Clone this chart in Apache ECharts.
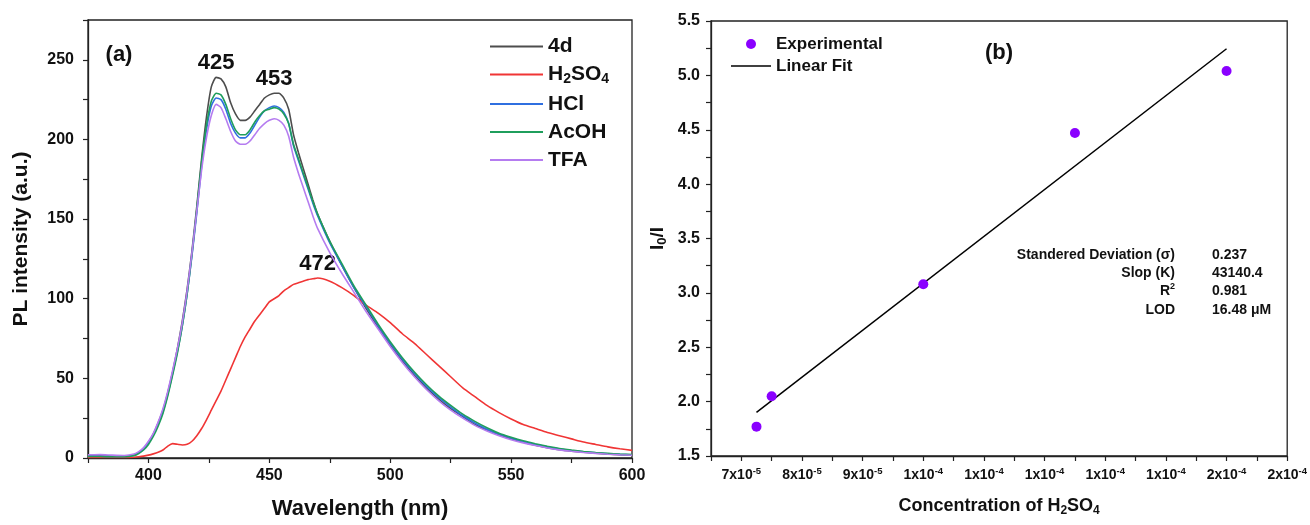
<!DOCTYPE html>
<html>
<head>
<meta charset="utf-8">
<title>PL spectra and Stern–Volmer plot</title>
<script src="https://cdn.jsdelivr.net/npm/echarts@6/dist/echarts.min.js"></script>
<style>
  html, body { margin: 0; padding: 0; background: #ffffff; }
  #chart { width: 1310px; height: 525px; }
</style>
</head>
<body>
<div id="chart"></div>
<script>
// ---------- (a) PL emission spectra ----------
const wavelength = [375, 380, 385, 390,
  394, 396, 398, 400, 402, 404, 406, 408, 410, 412, 414, 416, 418, 420, 422, 424,
  426, 428, 430, 432, 434, 436, 438, 440, 442, 444, 446, 448, 450, 452, 454, 456,
  458, 460, 462, 464, 466, 468, 470,
  475, 480, 485, 490, 495, 500, 505, 510, 515, 520, 525, 530, 535, 540, 545, 550,
  555, 560, 565, 570, 575, 580, 585, 590, 595, 600];

const pl4d = [1.5, 1.4, 1.2, 1.0,
  2, 3.5, 6, 10, 15, 22, 30, 41, 54, 69, 86, 106, 130, 158, 188, 214,
  233, 239, 238, 233, 223, 216, 212, 212, 214, 218, 222, 226, 228, 229, 229, 226,
  219, 203, 192, 182, 172, 162, 153,
  136, 121, 107, 94, 82, 71, 61, 52, 44, 37, 31, 26, 21, 17.5, 14.5, 12,
  10, 8, 6.5, 5.2, 4.3, 3.6, 3, 2.5, 2.1, 1.8];

const plH2SO4 = [0.4, 0.4, 0.3, 0.3,
  0.5, 0.8, 1.2, 1.8, 2.6, 3.6, 5, 7.5, 9, 8.6, 8.2, 8.6, 10.5, 14, 18.5, 24,
  30, 36, 42, 49, 56, 63, 70, 76, 81, 86, 90, 94, 98, 100, 102, 105,
  107, 109, 110, 111, 112, 112.5, 113,
  111, 107, 102, 96, 91, 85, 78, 72, 65, 58, 51, 44, 38.5, 33, 28.5, 24.5,
  21, 18.5, 16, 14, 12, 10, 8.5, 7, 5.8, 4.8];

const plHCl = [1.2, 1.1, 1.0, 0.9,
  1.8, 3.2, 5.6, 9.5, 14.5, 21, 29, 40, 53, 67, 83, 103, 127, 154, 183, 206,
  221, 226, 225, 219, 210, 204, 201, 201, 204, 209, 214, 218, 220, 221, 220, 217,
  210, 196, 187, 178, 169, 160, 152,
  135, 121, 107, 95, 83, 72, 62, 53, 45, 38, 32, 26.5, 22, 18, 15, 12.5,
  10.3, 8.5, 7, 5.7, 4.7, 3.9, 3.2, 2.7, 2.3, 2];

const plAcOH = [1.0, 0.9, 0.8, 0.8,
  1.5, 2.8, 5, 8.5, 13.5, 20, 28, 39, 52, 66, 83, 103, 128, 156, 186, 209,
  224, 229, 228, 222, 213, 206, 203, 203, 206, 211, 215, 218, 219, 220, 219, 216,
  210, 197, 188, 179, 170, 161, 153,
  136, 122, 108, 96, 84, 73, 63, 54, 46, 39, 33, 27.5, 23, 19, 15.5, 13,
  10.8, 9, 7.4, 6, 5, 4.1, 3.4, 2.9, 2.4, 2.1];

const plTFA = [2.0, 2.1, 1.8, 1.6,
  2.5, 4, 6.5, 10.5, 15.5, 22.5, 31, 42, 55, 69, 85, 105, 129, 155, 181, 201,
  215, 222, 220, 213, 205, 199, 197, 197, 199, 203, 207, 210, 212, 213, 212, 209,
  202, 189, 179, 170, 161, 152, 144,
  129, 116, 104, 92, 81, 70, 60, 51, 43, 36, 30, 25, 20.5, 17, 14, 11.5,
  9.5, 7.8, 6.3, 5.1, 4.2, 3.5, 2.9, 2.4, 2.0, 1.7];

const spectraNames = ['4d', 'H2SO4', 'HCl', 'AcOH', 'TFA'];
const spectraValues = [pl4d, plH2SO4, plHCl, plAcOH, plTFA];

// peak labels: text shown above the maximum of a series inside a wavelength window
const peakNotes = [
  { series: '4d', text: '425', range: [420, 440] },
  { series: '4d', text: '453', range: [445, 460] },
  { series: 'H2SO4', text: '472', range: [460, 490] }
];

// ---------- (b) I0/I versus H2SO4 concentration ----------
const concentration = [7.25e-5, 7.5e-5, 1.0e-4, 1.25e-4, 1.5e-4];
const ratioI0I = [1.77, 2.05, 3.08, 4.47, 5.04];
const fitSlope = 43140.4;
const statsRows = [
  ['Standered Deviation (σ)', '0.237'],
  ['Slop (K)', '43140.4'],
  ['{t|R}{p|2}', '0.981'],
  ['LOD', '16.48 μM']
];

// ---------- styling ----------
const FONT = '"Liberation Sans", Arial, Helvetica, sans-serif';
const INK = '#111111';
const AXIS = '#222222';
const spectraColors = ['#4d4d4d', '#f03535', '#2f6fe0', '#1f9e5c', '#b57cf0'];

function pairs(xs, ys) { return xs.map((x, i) => [x, ys[i]]); }

function peakIn(name, lo, hi) {
  const ys = spectraValues[spectraNames.indexOf(name)];
  let best = null;
  wavelength.forEach((w, i) => {
    if (w >= lo && w <= hi && (best === null || ys[i] > best[1])) best = [w, ys[i]];
  });
  return best;
}

// least-squares intercept for the stated slope
const meanX = concentration.reduce((a, b) => a + b, 0) / concentration.length;
const meanY = ratioI0I.reduce((a, b) => a + b, 0) / ratioI0I.length;
const fitIntercept = meanY - fitSlope * meanX;
const fitX = [Math.min(...concentration), Math.max(...concentration)];
const fitLine = fitX.map(x => [x, fitSlope * x + fitIntercept]);

const boldText = (size) => ({ fontFamily: FONT, fontWeight: 'bold', fontSize: size, color: INK });

function axisCommon() {
  return {
    type: 'value',
    axisLine: { show: true, onZero: false, lineStyle: { color: AXIS, width: 1.3 } },
    axisTick: { show: true, inside: false, length: 5, lineStyle: { color: AXIS, width: 1.2 } },
    splitLine: { show: false }
  };
}

function sciLabel(v) {
  const k = Math.round(v / 1e-6);
  if (k % 10 !== 0) return '';
  const e = Math.floor(Math.log10(v) + 1e-9);
  const m = Math.round(v / Math.pow(10, e) + 1e-9);
  return '{m|' + m + 'x10}{e|-' + (-e) + '}';
}

// thin bar used as a legend key for line series (aspect kept, so it stays a stroke)
const lineKey = (w, t) => 'path://M0,0 H' + w + ' V' + t + ' H0 Z';

const series = [];
spectraNames.forEach((name, idx) => {
  const notes = peakNotes.filter(n => n.series === name).map(n => {
    const p = peakIn(name, n.range[0], n.range[1]);
    return { coord: p, value: n.text, label: { formatter: n.text } };
  });
  series.push({
    type: 'line',
    name: name,
    xAxisIndex: 0,
    yAxisIndex: 0,
    data: pairs(wavelength, spectraValues[idx]),
    symbol: 'none',
    smooth: 0.2,
    lineStyle: { width: 1.6, color: spectraColors[idx] },
    itemStyle: { color: spectraColors[idx] },
    z: 2 + idx,
    markPoint: notes.length ? {
      symbol: 'circle',
      symbolSize: 0,
      silent: true,
      itemStyle: { color: 'rgba(0,0,0,0)' },
      label: Object.assign({ show: true, position: 'top', distance: 3 }, boldText(22)),
      data: notes
    } : undefined
  });
});

series.push({
  type: 'line',
  name: 'Linear Fit',
  xAxisIndex: 1,
  yAxisIndex: 1,
  data: fitLine,
  symbol: 'none',
  lineStyle: { color: '#000000', width: 1.5 },
  itemStyle: { color: '#000000' },
  z: 3
});
series.push({
  type: 'scatter',
  name: 'Experimental',
  xAxisIndex: 1,
  yAxisIndex: 1,
  data: pairs(concentration, ratioI0I),
  symbol: 'circle',
  symbolSize: 10,
  itemStyle: { color: '#8a00ff', opacity: 1 },
  z: 4
});

const statsY = [255, 273, 291, 310];
const statsGraphics = [];
statsRows.forEach((row, i) => {
  statsGraphics.push({
    type: 'text', x: 1175, y: statsY[i], silent: true,
    style: {
      text: row[0], fill: INK, font: 'bold 14px ' + FONT, align: 'right', verticalAlign: 'middle',
      rich: {
        t: { fontFamily: FONT, fontWeight: 'bold', fontSize: 14, color: INK, lineHeight: 17 },
        p: { fontFamily: FONT, fontWeight: 'bold', fontSize: 9, color: INK, lineHeight: 9, verticalAlign: 'top' }
      }
    }
  });
  statsGraphics.push({
    type: 'text', x: 1212, y: statsY[i], silent: true,
    style: { text: row[1], fill: INK, font: 'bold 14px ' + FONT, align: 'left', verticalAlign: 'middle' }
  });
});

const option = {
  animation: false,
  backgroundColor: '#ffffff',
  textStyle: { fontFamily: FONT },
  grid: [
    { left: 88, right: 678, top: 20, bottom: 66, show: true, borderColor: AXIS, borderWidth: 1.3, backgroundColor: 'transparent' },
    { left: 711, right: 22, top: 21, bottom: 69, show: true, borderColor: AXIS, borderWidth: 1.3, backgroundColor: 'transparent' }
  ],
  xAxis: [
    Object.assign(axisCommon(), {
      gridIndex: 0, min: 375, max: 600, interval: 25,
      axisLabel: Object.assign({ margin: 10, formatter: v => (v % 50 === 0 ? String(v) : '') }, boldText(16)),
      name: 'Wavelength (nm)', nameLocation: 'middle', nameGap: 40,
      nameTextStyle: boldText(22)
    }),
    Object.assign(axisCommon(), {
      gridIndex: 1, min: 6.5e-5, max: 1.6e-4, interval: 5e-6,
      axisLabel: {
        margin: 10, formatter: sciLabel, hideOverlap: false,
        rich: {
          m: { fontFamily: FONT, fontWeight: 'bold', fontSize: 14, color: INK, lineHeight: 18 },
          e: { fontFamily: FONT, fontWeight: 'bold', fontSize: 9.5, color: INK, lineHeight: 10, verticalAlign: 'top' }
        }
      },
      name: '{a|Concentration of H}{s|2}{a|SO}{s|4}', nameLocation: 'middle', nameGap: 39,
      nameTextStyle: {
        rich: {
          a: { fontFamily: FONT, fontWeight: 'bold', fontSize: 18, color: INK, lineHeight: 22 },
          s: { fontFamily: FONT, fontWeight: 'bold', fontSize: 12, color: INK, lineHeight: 10, verticalAlign: 'bottom' }
        }
      }
    })
  ],
  yAxis: [
    Object.assign(axisCommon(), {
      gridIndex: 0, min: 0, max: 275, interval: 25,
      axisLabel: Object.assign({ margin: 14, formatter: v => (v % 50 === 0 ? String(v) : '') }, boldText(16)),
      name: 'PL intensity (a.u.)', nameLocation: 'middle', nameGap: 56,
      nameTextStyle: boldText(21)
    }),
    Object.assign(axisCommon(), {
      gridIndex: 1, min: 1.5, max: 5.5, interval: 0.25,
      axisLabel: Object.assign({
        margin: 11,
        formatter: v => (Math.abs(v * 2 - Math.round(v * 2)) < 1e-6 ? v.toFixed(1) : '')
      }, boldText(16)),
      name: '{a|I}{s|0}{a|/I}', nameLocation: 'middle', nameGap: 42,
      nameTextStyle: {
        rich: {
          a: { fontFamily: FONT, fontWeight: 'bold', fontSize: 19, color: INK, lineHeight: 22 },
          s: { fontFamily: FONT, fontWeight: 'bold', fontSize: 13, color: INK, lineHeight: 10, verticalAlign: 'bottom' }
        }
      }
    })
  ],
  legend: [
    {
      data: spectraNames.map(n => ({ name: n, icon: lineKey(53, 1.8) })),
      orient: 'vertical',
      left: 485, top: 31,
      itemWidth: 53, itemHeight: 14, itemGap: 7,
      symbolKeepAspect: true,
      itemStyle: { borderWidth: 0 },
      selectedMode: false,
      formatter: name => (name === 'H2SO4' ? '{b|H}{s|2}{b|SO}{s|4}' : '{b|' + name + '}'),
      textStyle: {
        rich: {
          b: { fontFamily: FONT, fontWeight: 'bold', fontSize: 21, color: INK, lineHeight: 24 },
          s: { fontFamily: FONT, fontWeight: 'bold', fontSize: 14, color: INK, lineHeight: 12, verticalAlign: 'bottom' }
        }
      }
    },
    {
      data: [{ name: 'Experimental', icon: 'circle' }, { name: 'Linear Fit', icon: lineKey(40, 1.6) }],
      orient: 'vertical',
      left: 726, top: 29,
      itemWidth: 40, itemHeight: 10, itemGap: 2,
      symbolKeepAspect: true,
      itemStyle: { borderWidth: 0 },
      selectedMode: false,
      textStyle: Object.assign({ lineHeight: 20 }, boldText(17))
    }
  ],
  graphic: [
    { type: 'text', x: 119, y: 55, silent: true,
      style: { text: '(a)', fill: INK, font: 'bold 22px ' + FONT, align: 'center', verticalAlign: 'middle' } },
    { type: 'text', x: 999, y: 53, silent: true,
      style: { text: '(b)', fill: INK, font: 'bold 22px ' + FONT, align: 'center', verticalAlign: 'middle' } }
  ].concat(statsGraphics),
  series: series
};

const chart = echarts.init(document.getElementById('chart'), null, { renderer: 'canvas' });
chart.setOption(option);
</script>
</body>
</html>
